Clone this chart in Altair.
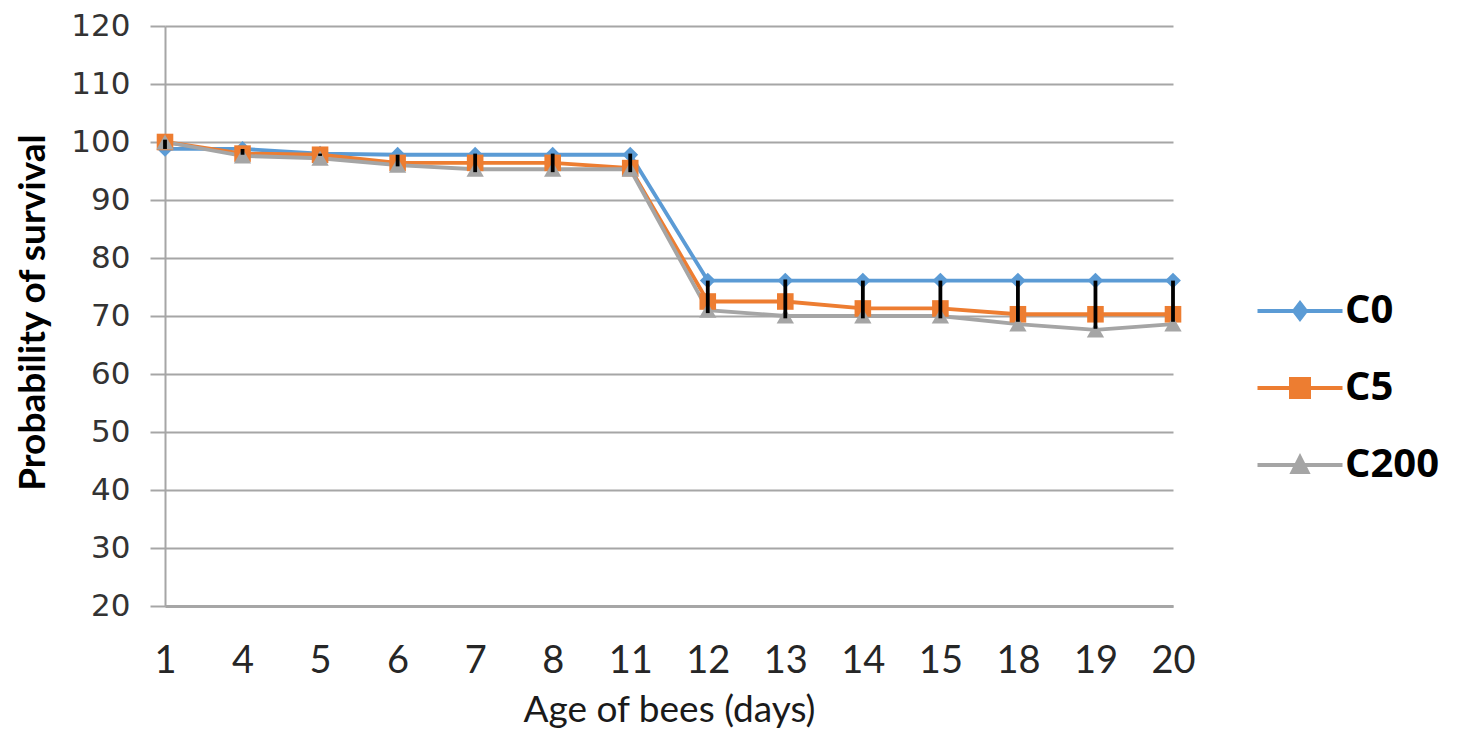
import altair as alt
import pandas as pd

# ---- data ----
days = ["1", "4", "5", "6", "7", "8", "11", "12", "13", "14", "15", "18", "19", "20"]
series_names = ["C0", "C5", "C200"]
c0 = [98.8, 98.8, 98.0, 97.8, 97.8, 97.8, 97.8, 76.1, 76.1, 76.1, 76.1, 76.1, 76.1, 76.1]
c5 = [100.0, 98.0, 97.8, 96.4, 96.4, 96.4, 95.5, 72.5, 72.5, 71.3, 71.3, 70.3, 70.3, 70.3]
c200 = [100.0, 97.6, 97.2, 96.0, 95.3, 95.3, 95.3, 71.0, 70.0, 70.0, 70.0, 68.6, 67.6, 68.6]
err_low = [98.8, 97.8, 97.6, 95.8, 94.8, 94.8, 94.8, 70.5, 69.6, 69.6, 69.6, 69.0, 67.8, 69.0]
err_high = [100.4, 98.8, 98.0, 97.8, 98.0, 98.0, 98.0, 76.1, 76.3, 76.1, 76.1, 76.1, 76.1, 76.1]
y_ticks = list(range(20, 121, 10))

colors = ["#5B9BD5", "#ED7D31", "#A5A5A5"]
marker_shapes = ["diamond", "square", "triangle-up"]
marker_sizes = [250, 300, 300]

# legend symbols: line + marker (unit paths, scaled by symbol size)
_line = "M-2.125,-0.1L2.125,-0.1L2.125,0.1L-2.125,0.1Z"
legend_shapes = [
    _line + "M0,-0.55L0.42,0L0,0.55L-0.42,0Z",
    _line + "M-0.55,-0.55L0.55,-0.55L0.55,0.55L-0.55,0.55Z",
    _line + "M0,-0.6L0.53,0.45L-0.53,0.45Z",
]

rows = []
for name, vals in zip(series_names, [c0, c5, c200]):
    for d, v in zip(days, vals):
        rows.append({"day": d, "series": name, "value": v})
df = pd.DataFrame(rows)
err_df = pd.DataFrame({"day": days, "lo": err_low, "hi": err_high})
leg_df = pd.DataFrame({"day": [days[0]] * 3, "series": series_names, "value": [100.0] * 3})

GRID = "#A6A6A6"

x_enc = alt.X(
    "day:N",
    scale=alt.Scale(type="point", domain=days, padding=0),
    axis=alt.Axis(
        title="Age of bees (days)", labelAngle=0, ticks=False, tickSize=0,
        domainColor=GRID, domainWidth=3, grid=False,
        labelFont="Lato", labelFontSize=38, labelColor="#262626", labelPadding=36,
        titleFont="Lato", titleFontSize=37, titleFontWeight="normal", titleColor="#1a1a1a",
        titleY=104, titleBaseline="middle",
    ),
)

y_axis = alt.Axis(
    values=y_ticks, title="Probability of survival", grid=True,
    gridColor=GRID, gridWidth=2, domainColor=GRID, domainWidth=2,
    tickColor=GRID, tickWidth=2, tickSize=15,
    labelFont="DejaVu Sans", labelFontSize=31, labelColor="#333333", labelPadding=20,
    titleFont="Lato", titleFontSize=37, titleFontWeight="bold", titleColor="#000000",
    titleX=-132, titleY=286, titleAlign="center", titleBaseline="middle",
)
y_scale = alt.Scale(domain=[20, 120], nice=False, zero=False)

color_scale = alt.Scale(domain=series_names, range=colors)

lines = alt.Chart(df).mark_line(strokeWidth=3.8).encode(
    x=x_enc,
    y=alt.Y("value:Q", scale=y_scale, axis=y_axis),
    color=alt.Color("series:N", scale=color_scale, legend=None),
    detail="series:N",
)

points = alt.Chart(df).mark_point(filled=True, opacity=1, strokeWidth=0).encode(
    x=x_enc,
    y=alt.Y("value:Q", scale=y_scale, axis=y_axis),
    color=alt.Color("series:N", scale=color_scale, legend=None),
    shape=alt.Shape("series:N", scale=alt.Scale(domain=series_names, range=marker_shapes), legend=None),
    size=alt.Size("series:N", scale=alt.Scale(domain=series_names, range=marker_sizes), legend=None),
)

errs = alt.Chart(err_df).mark_rule(color="black", strokeWidth=3.8).encode(
    x=x_enc,
    y=alt.Y("lo:Q", scale=y_scale, axis=y_axis),
    y2="hi:Q",
)

legend_spec = alt.Legend(
    title=None, orient="none", legendX=1115, legendY=265, padding=0,
    labelFont="Open Sans", labelFontSize=40, labelFontWeight="bold", labelColor="#000000",
    labelOffset=25, symbolSize=1600, symbolStrokeWidth=0, rowPadding=37,
)

legend_layer = alt.Chart(leg_df).transform_filter("false").mark_point(
    filled=True, opacity=1, strokeWidth=0
).encode(
    x=x_enc,
    y=alt.Y("value:Q", scale=y_scale, axis=y_axis),
    color=alt.Color("series:N", scale=color_scale, legend=legend_spec),
    shape=alt.Shape("series:N", scale=alt.Scale(domain=series_names, range=legend_shapes), legend=legend_spec),
)

chart = alt.layer(lines, points, errs, legend_layer).resolve_scale(
    color="independent", shape="independent", size="independent"
).properties(
    width=1008, height=580,
    autosize=alt.AutoSizeParams(type="none"),
    padding={"left": 157, "top": 18, "right": 285, "bottom": 134},
    background="white",
).configure_view(stroke=None)

chart.save("out.html", embed_options={"renderer": "svg", "actions": False})
